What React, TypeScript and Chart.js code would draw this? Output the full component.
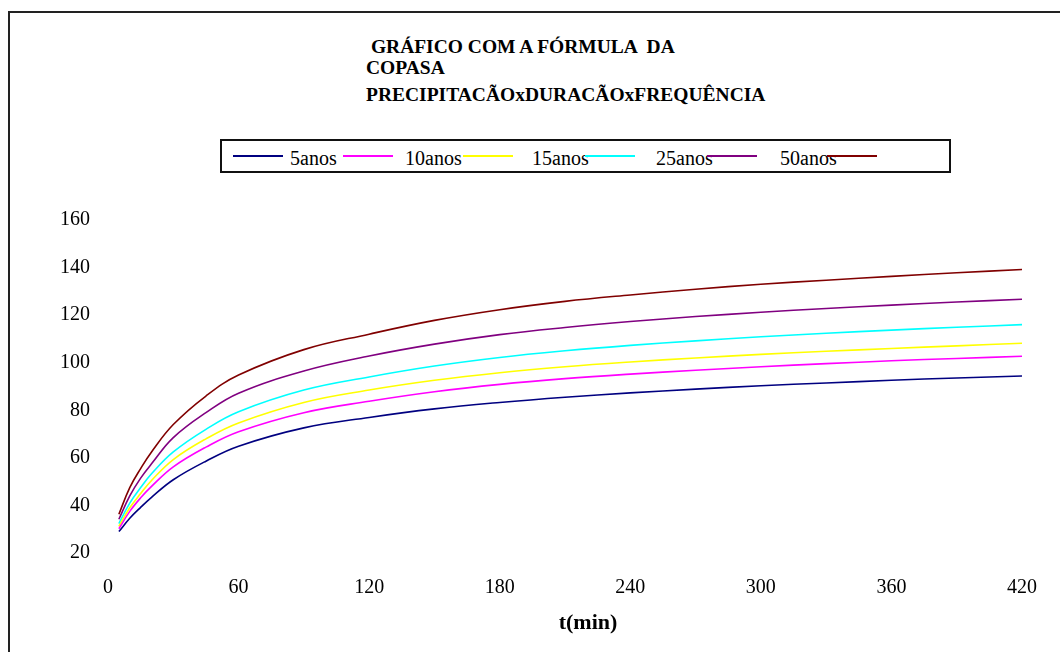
import { useEffect, useRef } from "react";
import { Chart, registerables } from "chart.js";

Chart.register(...registerables);

// ---------- data ----------
const TITLE_LINES = [" GRÁFICO COM A FÓRMULA  DA", "COPASA", "PRECIPITACÃOxDURACÃOxFREQUÊNCIA"];
const X_TITLE = "t(min)";

const DURATIONS = [5, 10, 15, 20, 30, 45, 60, 90, 120, 150, 180, 210, 240, 270, 300, 330, 360, 390, 420];

const P_5ANOS = [29.0, 34.6, 39.2, 43.4, 50.8, 58.6, 64.9, 72.6, 77.0, 80.6, 83.3, 85.5, 87.3, 88.9, 90.3, 91.5, 92.6, 93.6, 94.4];
const P_10ANOS = [30.2, 37.5, 43.2, 48.0, 56.2, 64.5, 71.0, 79.0, 83.8, 87.8, 90.9, 93.3, 95.2, 96.8, 98.3, 99.6, 100.8, 101.8, 102.7];
const P_15ANOS = [31.2, 39.0, 45.0, 50.5, 59.3, 68.0, 74.7, 83.3, 88.5, 92.6, 95.8, 98.3, 100.3, 102.0, 103.5, 104.8, 106.0, 107.1, 108.2];
const P_25ANOS = [32.4, 41.0, 47.5, 53.3, 62.5, 72.0, 79.4, 88.5, 94.0, 98.6, 102.2, 105.0, 107.3, 109.2, 110.9, 112.4, 113.7, 114.9, 116.0];
const P_50ANOS = [34.2, 44.0, 51.5, 57.5, 68.5, 79.0, 87.2, 96.5, 102.8, 107.8, 111.8, 114.8, 117.3, 119.4, 121.2, 122.8, 124.2, 125.5, 126.7];
const P_6 = [36.3, 47.5, 55.5, 62.5, 74.0, 86.0, 94.8, 105.5, 112.0, 117.8, 122.3, 125.8, 128.5, 130.9, 133.0, 134.7, 136.3, 137.8, 139.2];

const SERIES_LABELS = ["5anos", "10anos", "15anos", "25anos", "50anos", ""];
const SERIES_VALUES = [P_5ANOS, P_10ANOS, P_15ANOS, P_25ANOS, P_50ANOS, P_6];

const X_MIN = 0;
const X_MAX = 420;
const X_STEP = 60;
const Y_MIN = 20;
const Y_MAX = 160;
const Y_STEP = 20;

// ---------- styles / layout ----------
const SERIES_COLORS = ["#000080", "#FF00FF", "#FFFF00", "#00FFFF", "#800080", "#800000"];
const LEGEND_LINE_X = [233, 343, 463, 585, 707, 827];
const LEGEND_LABEL_X = [290, 405, 532, 656, 780, 0];
const TITLE_TOPS = [37, 58, 85];
const FONT = "'Liberation Serif', 'Times New Roman', serif";

export default function App() {
  const canvasRef = useRef<HTMLCanvasElement | null>(null);

  useEffect(() => {
    const canvas = canvasRef.current;
    if (!canvas) return;
    const tickFont = { family: FONT, size: 20 };
    const chart = new Chart(canvas, {
      type: "line",
      data: {
        datasets: SERIES_VALUES.map((vals, i) => ({
          label: SERIES_LABELS[i],
          data: vals.map((v, j) => ({ x: DURATIONS[j], y: v })),
          borderColor: SERIES_COLORS[i],
          backgroundColor: SERIES_COLORS[i],
          borderWidth: 1.6,
          pointRadius: 0,
          fill: false,
          tension: 0.4,
        })),
      },
      options: {
        responsive: false,
        animation: false,
        devicePixelRatio: 1,
        layout: { padding: { left: 0, right: 22, top: 28, bottom: 0 } },
        plugins: {
          legend: { display: false },
          tooltip: { enabled: false },
          title: { display: false },
        },
        scales: {
          x: {
            type: "linear",
            min: X_MIN,
            max: X_MAX,
            grid: { display: false, drawTicks: false },
            border: { display: false },
            ticks: { stepSize: X_STEP, font: tickFont, color: "#000", padding: 23, maxRotation: 0 },
            afterFit: (scale: any) => {
              scale.height = 99;
            },
          },
          y: {
            type: "linear",
            min: Y_MIN,
            max: Y_MAX,
            grid: { display: false, drawTicks: false },
            border: { display: false },
            ticks: { stepSize: Y_STEP, font: tickFont, color: "#000", padding: 18 },
            afterFit: (scale: any) => {
              scale.width = 100;
            },
          },
        },
      },
    });
    return () => chart.destroy();
  }, []);

  return (
    <div
      style={{
        position: "fixed",
        left: 0,
        top: 0,
        width: 1060,
        height: 652,
        overflow: "hidden",
        background: "#fff",
        fontFamily: FONT,
        color: "#000",
      }}
    >
      {/* outer chart frame */}
      <div
        style={{
          position: "absolute",
          left: 8,
          top: 11,
          width: 1200,
          height: 800,
          border: "2px solid #222",
          boxSizing: "border-box",
        }}
      />
      {/* title */}
      {TITLE_LINES.map((line, i) => (
        <div
          key={i}
          style={{
            position: "absolute",
            left: 366,
            top: TITLE_TOPS[i],
            fontSize: 19.5,
            lineHeight: "20px",
            fontWeight: "bold",
            whiteSpace: "pre",
          }}
        >
          {line}
        </div>
      ))}
      {/* legend */}
      <div
        style={{
          position: "absolute",
          left: 220,
          top: 139,
          width: 731,
          height: 34,
          border: "2px solid #111",
          boxSizing: "border-box",
        }}
      />
      {SERIES_LABELS.map((lab, i) => (
        <div key={"l" + i}>
          <div
            style={{
              position: "absolute",
              left: LEGEND_LINE_X[i],
              top: 154.7,
              width: 50,
              height: 2,
              background: SERIES_COLORS[i],
            }}
          />
          {lab !== "" && (
            <div
              style={{
                position: "absolute",
                left: LEGEND_LABEL_X[i],
                top: 147.5,
                fontSize: 20,
                lineHeight: "20px",
                whiteSpace: "pre",
              }}
            >
              {lab}
            </div>
          )}
        </div>
      ))}
      {/* chart */}
      <canvas
        ref={canvasRef}
        width={1052}
        height={462}
        style={{ position: "absolute", left: 8, top: 190, width: 1052, height: 462 }}
      />
      {/* x-axis title */}
      <div
        style={{
          position: "absolute",
          left: 488,
          width: 200,
          top: 611,
          textAlign: "center",
          fontSize: 22,
          lineHeight: "22px",
          fontWeight: "bold",
        }}
      >
        {X_TITLE}
      </div>
    </div>
  );
}
